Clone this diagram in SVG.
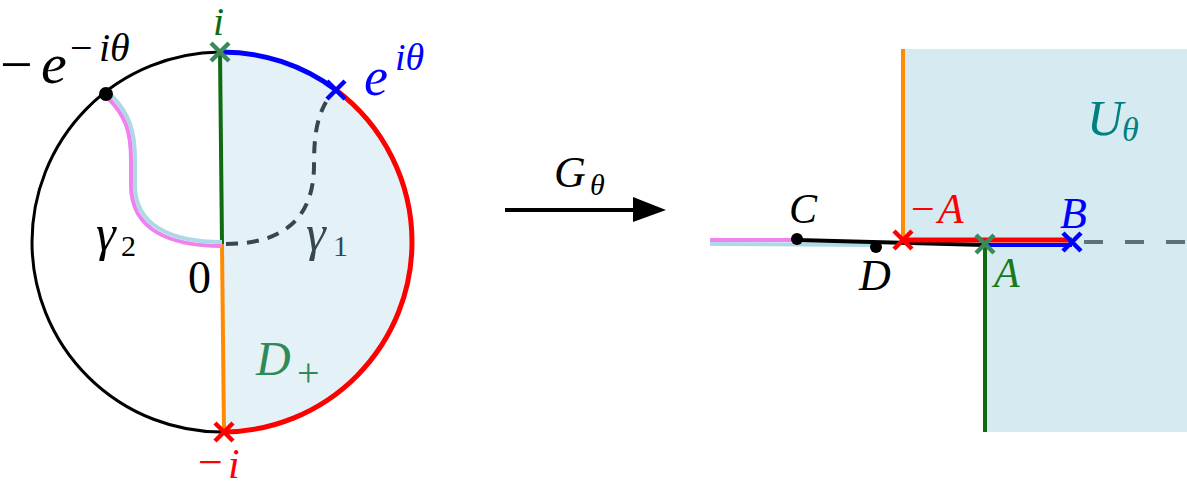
<svg xmlns="http://www.w3.org/2000/svg" width="1187" height="485" viewBox="0 0 1187 485">
<style>
text{font-family:'Liberation Serif',serif}
.it{font-style:italic}
.xm{fill:none;stroke-width:4.5}
.ln{fill:none;stroke-linecap:butt}
</style>
<defs>
<path id="xmark" d="M-9,-9L9,9M-9,9L9,-9"/>
</defs>
<rect width="1187" height="485" fill="#ffffff"/>
<g id="left-disk">
<path d="M220 52A190 190 0 0 1 412 242A190 190 0 0 1 224 432L222 244Z" fill="#e4f2f8"/>
<path class="ln" d="M220 52A190 190 0 0 0 32 242A190 190 0 0 0 224 432" stroke="#000" stroke-width="3"/>
<path class="ln" d="M220 52A190 190 0 0 1 336 90" stroke="#0000ff" stroke-width="5"/>
<path class="ln" d="M336 90A190 190 0 0 1 412 242A190 190 0 0 1 224 432" stroke="#ff0000" stroke-width="5"/>
<path class="ln" d="M220 52L222 244" stroke="#0f6b0f" stroke-width="4"/>
<path class="ln" d="M222 244L224 432" stroke="#ff8c00" stroke-width="4"/>
<path class="ln" d="M111 95C129 113 135 130 135 160L135 185C135 225 170 242 222 242" stroke="#add8e6" stroke-width="4"/>
<path class="ln" d="M107 97C125 115 131 130 131 160L131 185C131 230 170 246 222 246" stroke="#ee82ee" stroke-width="4"/>
<path class="ln" d="M226 244C287 244 314 215 314 165C314 135 317 118 326 102" stroke="#37474f" stroke-width="4" stroke-dasharray="12 9"/>
<circle cx="106" cy="94" r="7" fill="#000"/>
<use href="#xmark" x="220" y="52" class="xm" stroke="#3a8a5c"/>
<use href="#xmark" x="336" y="90" class="xm" stroke="#0000ff"/>
<use href="#xmark" x="224" y="432" class="xm" stroke="#ff0000"/>
<text x="0" y="84" font-size="58">−</text>
<text x="41" y="83" font-size="58" class="it">e</text>
<text x="70" y="61" font-size="40">−</text>
<text x="99" y="61" font-size="40" class="it">iθ</text>
<text x="364" y="95" font-size="54" class="it" fill="#0000ff">e</text>
<text x="395" y="70" font-size="38" class="it" fill="#0000ff">iθ</text>
<text x="213" y="35" font-size="40" class="it" fill="#0f6b0f">i</text>
<text x="96" y="250" font-size="50" class="it">γ</text>
<text x="121" y="256" font-size="30">2</text>
<text x="306" y="250" font-size="50" class="it" fill="#37474f">γ</text>
<text x="333" y="256" font-size="30" fill="#37474f">1</text>
<text x="188" y="293" font-size="46">0</text>
<text x="256" y="375" font-size="48" class="it" fill="#2e8b57">D</text>
<text x="297" y="386" font-size="40" fill="#2e8b57">+</text>
<text x="198" y="477" font-size="44" fill="#ff0000">−</text>
<text x="228" y="478" font-size="42" class="it" fill="#ff0000">i</text>
</g>
<g id="connectors">
<path class="ln" d="M505 210L640 210" stroke="#000" stroke-width="4"/>
<path d="M633 197L666 210L633 222Z" fill="#000"/>
<text x="554" y="187" font-size="44" class="it">G</text>
<text x="590" y="195" font-size="30" class="it">θ</text>
</g>
<g id="right-plane">
<path d="M903 49L1187 49L1187 432L985 432L985 244L903 242Z" fill="#d6eaf1"/>
<path class="ln" d="M903 49L903 240" stroke="#ff8c00" stroke-width="4"/>
<path class="ln" d="M985 244L985 432" stroke="#0f6b0f" stroke-width="4"/>
<path class="ln" d="M710 240L797 240" stroke="#ee82ee" stroke-width="4"/>
<path class="ln" d="M710 244L876 245" stroke="#add8e6" stroke-width="4"/>
<path class="ln" d="M797 240L985 245" stroke="#000" stroke-width="4"/>
<path class="ln" d="M903 240L1072 240" stroke="#ff0000" stroke-width="5"/>
<path class="ln" d="M985 245L1072 245" stroke="#0000ff" stroke-width="4"/>
<path class="ln" d="M1084 242L1187 242" stroke="#5f7077" stroke-width="4" stroke-dasharray="19 22"/>
<circle cx="797" cy="239" r="6" fill="#000"/>
<circle cx="876" cy="247" r="6" fill="#000"/>
<use href="#xmark" x="903" y="240" class="xm" stroke="#ff0000"/>
<use href="#xmark" x="985" y="244" class="xm" stroke="#3a8a5c"/>
<use href="#xmark" x="1072" y="242" class="xm" stroke="#0000ff"/>
<text x="789" y="223" font-size="42" class="it">C</text>
<text x="859" y="290" font-size="44" class="it">D</text>
<text x="911" y="223" font-size="42" fill="#ff0000">−</text>
<text x="938" y="223" font-size="42" class="it" fill="#ff0000">A</text>
<text x="1060" y="228" font-size="44" class="it" fill="#0000ff">B</text>
<text x="994" y="287" font-size="42" class="it" fill="#1a7a1a">A</text>
<text x="1087" y="135" font-size="50" class="it" fill="#008080">U</text>
<text x="1122" y="141" font-size="34" class="it" fill="#008080">θ</text>
</g>
</svg>
